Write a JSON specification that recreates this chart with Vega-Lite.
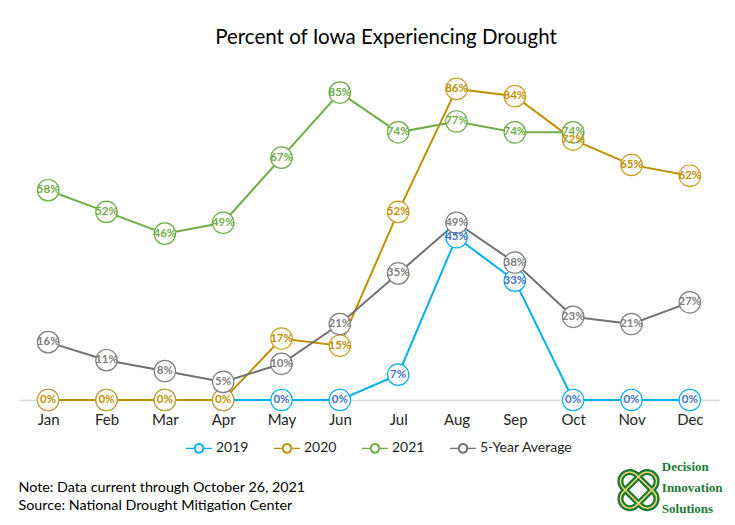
{
  "$schema": "https://vega.github.io/schema/vega-lite/v6.json",
  "width": 700,
  "height": 340,
  "autosize": {"type": "none"},
  "padding": {"left": 19, "top": 60, "right": 16, "bottom": 125},
  "background": "white",
  "config": {"view": {"stroke": null}, "font": "Lato"},
  "title": {"text": "Percent of Iowa Experiencing Drought", "fontSize": 20.5, "font": "Lato", "fontWeight": "normal", "color": "#000000", "anchor": "middle", "dx": 17, "offset": 12},
  "datasets": {
    "logo": [{"item": "logo"}]
  },
  "data": {"values": [
    {"month": "Jan", "series": "2019", "value": 0},
    {"month": "Feb", "series": "2019", "value": 0},
    {"month": "Mar", "series": "2019", "value": 0},
    {"month": "Apr", "series": "2019", "value": 0},
    {"month": "May", "series": "2019", "value": 0},
    {"month": "Jun", "series": "2019", "value": 0},
    {"month": "Jul", "series": "2019", "value": 0.07},
    {"month": "Aug", "series": "2019", "value": 0.45},
    {"month": "Sep", "series": "2019", "value": 0.33},
    {"month": "Oct", "series": "2019", "value": 0},
    {"month": "Nov", "series": "2019", "value": 0},
    {"month": "Dec", "series": "2019", "value": 0},
    {"month": "Jan", "series": "2020", "value": 0},
    {"month": "Feb", "series": "2020", "value": 0},
    {"month": "Mar", "series": "2020", "value": 0},
    {"month": "Apr", "series": "2020", "value": 0},
    {"month": "May", "series": "2020", "value": 0.17},
    {"month": "Jun", "series": "2020", "value": 0.15},
    {"month": "Jul", "series": "2020", "value": 0.52},
    {"month": "Aug", "series": "2020", "value": 0.86},
    {"month": "Sep", "series": "2020", "value": 0.84},
    {"month": "Oct", "series": "2020", "value": 0.72},
    {"month": "Nov", "series": "2020", "value": 0.65},
    {"month": "Dec", "series": "2020", "value": 0.62},
    {"month": "Jan", "series": "2021", "value": 0.58},
    {"month": "Feb", "series": "2021", "value": 0.52},
    {"month": "Mar", "series": "2021", "value": 0.46},
    {"month": "Apr", "series": "2021", "value": 0.49},
    {"month": "May", "series": "2021", "value": 0.67},
    {"month": "Jun", "series": "2021", "value": 0.85},
    {"month": "Jul", "series": "2021", "value": 0.74},
    {"month": "Aug", "series": "2021", "value": 0.77},
    {"month": "Sep", "series": "2021", "value": 0.74},
    {"month": "Oct", "series": "2021", "value": 0.74},
    {"month": "Jan", "series": "5-Year Average", "value": 0.16},
    {"month": "Feb", "series": "5-Year Average", "value": 0.11},
    {"month": "Mar", "series": "5-Year Average", "value": 0.08},
    {"month": "Apr", "series": "5-Year Average", "value": 0.05},
    {"month": "May", "series": "5-Year Average", "value": 0.10},
    {"month": "Jun", "series": "5-Year Average", "value": 0.21},
    {"month": "Jul", "series": "5-Year Average", "value": 0.35},
    {"month": "Aug", "series": "5-Year Average", "value": 0.49},
    {"month": "Sep", "series": "5-Year Average", "value": 0.38},
    {"month": "Oct", "series": "5-Year Average", "value": 0.23},
    {"month": "Nov", "series": "5-Year Average", "value": 0.21},
    {"month": "Dec", "series": "5-Year Average", "value": 0.27}
  ]},
  "layer": [
    {
      "mark": {"type": "line", "strokeWidth": 2},
      "encoding": {
        "x": {"field": "month", "type": "ordinal", "sort": ["Jan", "Feb", "Mar", "Apr", "May", "Jun", "Jul", "Aug", "Sep", "Oct", "Nov", "Dec"], "scale": {"type": "point", "padding": 0.5},
          "axis": {
            "title": ["Note: Data current through October 26, 2021", "Source: National Drought Mitigation Center"],
            "titleAnchor": "start", "titleAlign": "left", "titleX": -1, "titleY": 80, "titleBaseline": "top",
            "titleFontSize": 14.3, "titleFontWeight": "normal", "titleColor": "#000000", "titleFont": "Lato", "titleLineHeight": 18,
            "labelAngle": 0, "labelFontSize": 15, "labelColor": "#262626", "labelFont": "Lato", "labelPadding": 12,
            "ticks": false, "domainColor": "#d9d9d9", "domainWidth": 1.5, "grid": false
          }
        },
        "y": {"field": "value", "type": "quantitative", "scale": {"domain": [0, 0.94], "nice": false, "zero": true}, "axis": null},
        "color": {
          "field": "series", "type": "nominal",
          "scale": {"domain": ["2019", "2020", "2021", "5-Year Average"], "range": ["#00B0F0", "#BF9000", "#70AD47", "#767171"]},
          "legend": {
            "orient": "none", "legendX": 166, "legendY": 374, "direction": "horizontal", "title": null,
            "symbolType": "M-1,0H-0.36M0.36,0H1M0.36,0A0.36,0.36,0,1,1,-0.36,0A0.36,0.36,0,1,1,0.36,0ZM0.31,0A0.31,0.31,0,1,0,-0.31,0A0.31,0.31,0,1,0,0.31,0Z",
            "symbolSize": 676, "symbolStrokeWidth": 1.3,
            "labelFontSize": 14, "labelColor": "#262626", "labelFont": "Lato", "columnPadding": 22, "labelOffset": 3
          }
        }
      }
    },
    {
      "mark": {"type": "point", "shape": "circle", "filled": false, "fill": "white", "fillOpacity": 1, "opacity": 1, "size": 460, "strokeWidth": 1.2},
      "encoding": {
        "x": {"field": "month", "type": "ordinal", "sort": ["Jan", "Feb", "Mar", "Apr", "May", "Jun", "Jul", "Aug", "Sep", "Oct", "Nov", "Dec"]},
        "y": {"field": "value", "type": "quantitative"},
        "stroke": {"field": "series", "type": "nominal", "scale": {"domain": ["2019", "2020", "2021", "5-Year Average"], "range": ["#00B0F0", "#C9A227", "#70AD47", "#808080"]}, "legend": null}
      }
    },
    {
      "transform": [{"filter": {"not": {"and": [{"field": "series", "equal": "2019"}, {"field": "month", "oneOf": ["Jan", "Feb", "Mar", "Apr"]}]}}}],
      "mark": {"type": "text", "fontSize": 11.5, "fontWeight": "bold", "font": "Lato", "baseline": "middle", "align": "center"},
      "encoding": {
        "x": {"field": "month", "type": "ordinal", "sort": ["Jan", "Feb", "Mar", "Apr", "May", "Jun", "Jul", "Aug", "Sep", "Oct", "Nov", "Dec"]},
        "y": {"field": "value", "type": "quantitative"},
        "text": {"field": "value", "type": "quantitative", "format": ".0%"},
        "fill": {"field": "series", "type": "nominal", "scale": {"domain": ["2019", "2020", "2021", "5-Year Average"], "range": ["#4472C4", "#BF9000", "#70AD47", "#7F7F7F"]}, "legend": null}
      }
    },
    {
      "data": {"name": "logo"},
      "mark": {"type": "point", "shape": "M-0.55,-0.42H0.55A0.42,0.42,0,0,1,0.55,0.42H-0.55A0.42,0.42,0,0,1,-0.55,-0.42Z", "angle": 45, "filled": false, "size": 2000, "strokeWidth": 6, "stroke": "#1B7A34", "opacity": 1, "xOffset": 7},
      "encoding": {"x": {"datum": "Nov", "type": "ordinal"}, "y": {"datum": -0.249, "type": "quantitative"}}
    },
    {
      "data": {"name": "logo"},
      "mark": {"type": "point", "shape": "M-0.55,-0.42H0.55A0.42,0.42,0,0,1,0.55,0.42H-0.55A0.42,0.42,0,0,1,-0.55,-0.42Z", "angle": -45, "filled": false, "size": 2000, "strokeWidth": 6, "stroke": "#1B7A34", "opacity": 1, "xOffset": 7},
      "encoding": {"x": {"datum": "Nov", "type": "ordinal"}, "y": {"datum": -0.249, "type": "quantitative"}}
    },
    {
      "data": {"name": "logo"},
      "mark": {"type": "point", "shape": "M-0.55,-0.42H0.55A0.42,0.42,0,0,1,0.55,0.42H-0.55A0.42,0.42,0,0,1,-0.55,-0.42Z", "angle": 45, "filled": false, "size": 2000, "strokeWidth": 1.5, "stroke": "#F5D76E", "opacity": 1, "xOffset": 7},
      "encoding": {"x": {"datum": "Nov", "type": "ordinal"}, "y": {"datum": -0.249, "type": "quantitative"}}
    },
    {
      "data": {"name": "logo"},
      "mark": {"type": "point", "shape": "M-0.55,-0.42H0.55A0.42,0.42,0,0,1,0.55,0.42H-0.55A0.42,0.42,0,0,1,-0.55,-0.42Z", "angle": -45, "filled": false, "size": 2000, "strokeWidth": 1.5, "stroke": "#F5D76E", "opacity": 1, "xOffset": 7},
      "encoding": {"x": {"datum": "Nov", "type": "ordinal"}, "y": {"datum": -0.249, "type": "quantitative"}}
    },
    {
      "data": {"name": "logo"},
      "mark": {"type": "text", "text": ["Decision", "Innovation", "Solutions"], "font": "Liberation Serif", "fontWeight": "bold", "fontSize": 13, "lineHeight": 21, "align": "left", "baseline": "middle", "fill": "#1E7B34", "dx": -28},
      "encoding": {"x": {"datum": "Dec", "type": "ordinal"}, "y": {"datum": -0.185, "type": "quantitative"}}
    }
  ]
}
